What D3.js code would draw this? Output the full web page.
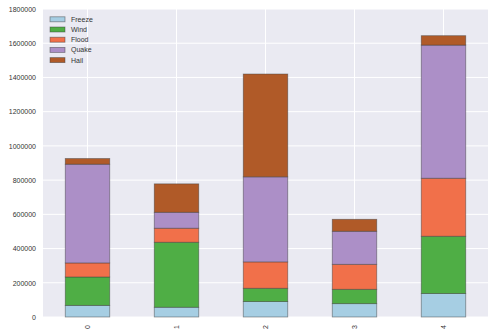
<!DOCTYPE html>
<html><head><meta charset="utf-8">
<script src="https://cdn.jsdelivr.net/npm/d3@7"></script>
<style>body{margin:0;background:#fff;}text{font-family:"Liberation Sans",Arial,sans-serif;}</style>
</head><body><svg id="c" width="496" height="335"></svg>
<script>
const categories = ["0","1","2","3","4"];
const seriesNames = ["Freeze","Wind","Flood","Quake","Hail"];
const freeze = [68000, 57000, 90000, 78000, 137000];
const wind   = [166000, 380000, 78000, 84000, 335000];
const flood  = [82000, 82000, 154000, 146000, 339000];
const quake  = [577000, 93000, 497000, 193000, 778000];
const hail   = [33000, 166000, 601000, 70000, 55000];
const yTicks = [0,200000,400000,600000,800000,1000000,1200000,1400000,1600000,1800000];
const colors = ["#a6cee3","#4fae45","#f1704a","#ac8fc7","#b05a28"];

const seriesVals = [freeze, wind, flood, quake, hail];
const rows = categories.map((c,i)=>{const o={cat:c}; seriesNames.forEach((s,j)=>o[s]=seriesVals[j][i]); return o;});
const stack = d3.stack().keys(seriesNames)(rows);

const L=43, R=488, T=9, B=317;
const svg = d3.select("#c");
const x = d3.scaleBand().domain(categories).range([L,R]).paddingInner(0.5).paddingOuter(0.25);
const y = d3.scaleLinear().domain([0,1800000]).range([B,T]);

svg.append("rect").attr("x",L).attr("y",T).attr("width",R-L).attr("height",B-T).attr("fill","#eaeaf2");
// grid
svg.append("g").selectAll("line").data(yTicks).join("line")
  .attr("x1",L).attr("x2",R).attr("y1",d=>y(d)).attr("y2",d=>y(d))
  .attr("stroke","#fff").attr("stroke-width",1);
svg.append("g").selectAll("line").data(categories).join("line")
  .attr("x1",d=>x(d)+x.bandwidth()/2).attr("x2",d=>x(d)+x.bandwidth()/2).attr("y1",T).attr("y2",B)
  .attr("stroke","#fff").attr("stroke-width",1);

// bars
svg.append("g").selectAll("g").data(stack).join("g")
  .attr("fill",(d,i)=>colors[i])
  .selectAll("rect").data(d=>d).join("rect")
  .attr("x",d=>x(d.data.cat)).attr("width",x.bandwidth())
  .attr("y",d=>y(d[1])).attr("height",d=>y(d[0])-y(d[1]))
  .attr("stroke","rgba(60,60,60,0.55)").attr("stroke-width",0.8);

// y axis
const ya = svg.append("g").attr("transform",`translate(${L},0)`)
  .call(d3.axisLeft(y).tickValues(yTicks).tickFormat(d3.format("d")).tickSize(0).tickPadding(7));
ya.select(".domain").remove();
ya.selectAll("text").attr("font-size",7).attr("fill","#333").attr("font-family","Liberation Sans, Arial, sans-serif");

// x axis
const xa = svg.append("g").attr("transform",`translate(0,${B})`)
  .call(d3.axisBottom(x).tickSize(0).tickPadding(0));
xa.select(".domain").remove();
xa.selectAll("text").attr("font-size",7).attr("fill","#333").attr("font-family","Liberation Sans, Arial, sans-serif")
  .attr("transform","translate(0,10) rotate(-90)").attr("text-anchor","middle").attr("dy","0.35em").attr("y",0).attr("x",0);

// legend
const lg = svg.append("g").selectAll("g").data(seriesNames).join("g")
  .attr("transform",(d,i)=>`translate(50,${19.3+i*10.2})`);
lg.append("rect").attr("x",0).attr("y",-2.5).attr("width",15).attr("height",5)
  .attr("fill",(d,i)=>colors[i]).attr("stroke","rgba(60,60,60,0.55)").attr("stroke-width",0.8);
lg.append("text").attr("x",21).attr("y",0).attr("dy","0.35em").attr("font-size",7).attr("fill","#333").text(d=>d);
</script></body></html>
